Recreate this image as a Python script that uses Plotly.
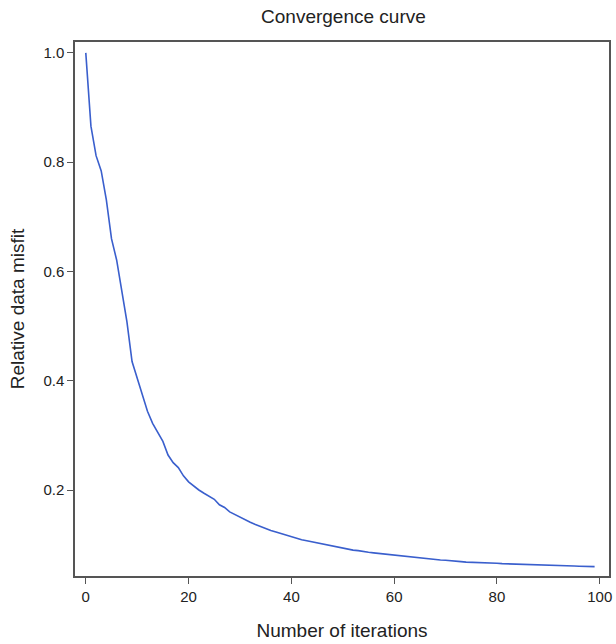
import plotly.graph_objects as go

iterations = list(range(100))
misfit = [
    1.000, 0.866, 0.812, 0.784, 0.731, 0.660, 0.621, 0.568, 0.508, 0.435,
    0.405, 0.372, 0.344, 0.322, 0.305, 0.289, 0.264, 0.250, 0.241, 0.226,
    0.215, 0.207, 0.200, 0.194, 0.188, 0.183, 0.173, 0.168, 0.160, 0.155,
    0.150, 0.145, 0.141, 0.137, 0.133, 0.129, 0.126, 0.123, 0.120, 0.117,
    0.114, 0.112, 0.109, 0.107, 0.105, 0.103, 0.101, 0.099, 0.097, 0.095,
    0.093, 0.092, 0.090, 0.089, 0.087, 0.086, 0.085, 0.084, 0.082, 0.081,
    0.080, 0.079, 0.078, 0.077, 0.076, 0.0755, 0.075, 0.074, 0.073, 0.072,
    0.0715, 0.071, 0.070, 0.069, 0.068, 0.0678, 0.067, 0.0668, 0.0665, 0.066,
    0.0658, 0.0652, 0.0648, 0.0643, 0.064, 0.0636, 0.0632, 0.063, 0.0625, 0.062,
    0.0618, 0.0616, 0.0614, 0.0612, 0.061, 0.0608, 0.0605, 0.0603, 0.0601, 0.0598,
]
x_ticks = [0, 20, 40, 60, 80, 100]
y_ticks = [0.2, 0.4, 0.6, 0.8, 1.0]
y_tick_labels = ["0.2", "0.4", "0.6", "0.8", "1.0"]

FONT = "Liberation Sans, Arial, sans-serif"
BOX = "#555555"
TXT = "#222222"

fig = go.Figure()
fig.add_trace(go.Scatter(
    x=iterations, y=misfit, mode="lines",
    line=dict(color="#3A5FCD", width=1.6),
    showlegend=False,
))

fig.update_layout(
    width=616, height=644,
    margin=dict(l=75, r=4, t=42, b=68),
    paper_bgcolor="white", plot_bgcolor="white",
    font=dict(family=FONT, color=TXT),
    title=dict(text="Convergence curve", x=0.5575, xanchor="center",
               y=0.975, yanchor="middle", font=dict(size=19, family=FONT, color=TXT)),
    xaxis=dict(
        range=[-2.1, 101.8], tickvals=x_ticks, ticks="outside", ticklen=6,
        tickwidth=1.2, tickcolor=BOX, showline=True, linecolor=BOX, linewidth=1.5,
        mirror=True, showgrid=False, zeroline=False,
        tickfont=dict(size=15, family=FONT, color=TXT),
        title=dict(text="Number of iterations", standoff=20,
                   font=dict(size=19, family=FONT, color=TXT)),
    ),
    yaxis=dict(
        range=[0.0426, 1.020], tickvals=y_ticks, ticktext=y_tick_labels,
        ticks="outside", ticklen=6, tickwidth=1.2, tickcolor=BOX,
        showline=True, linecolor=BOX, linewidth=1.5, mirror=True,
        showgrid=False, zeroline=False,
        tickfont=dict(size=15, family=FONT, color=TXT),
        title=dict(text="Relative data misfit", standoff=14,
                   font=dict(size=19, family=FONT, color=TXT)),
    ),
)

fig.write_html("out.html")
